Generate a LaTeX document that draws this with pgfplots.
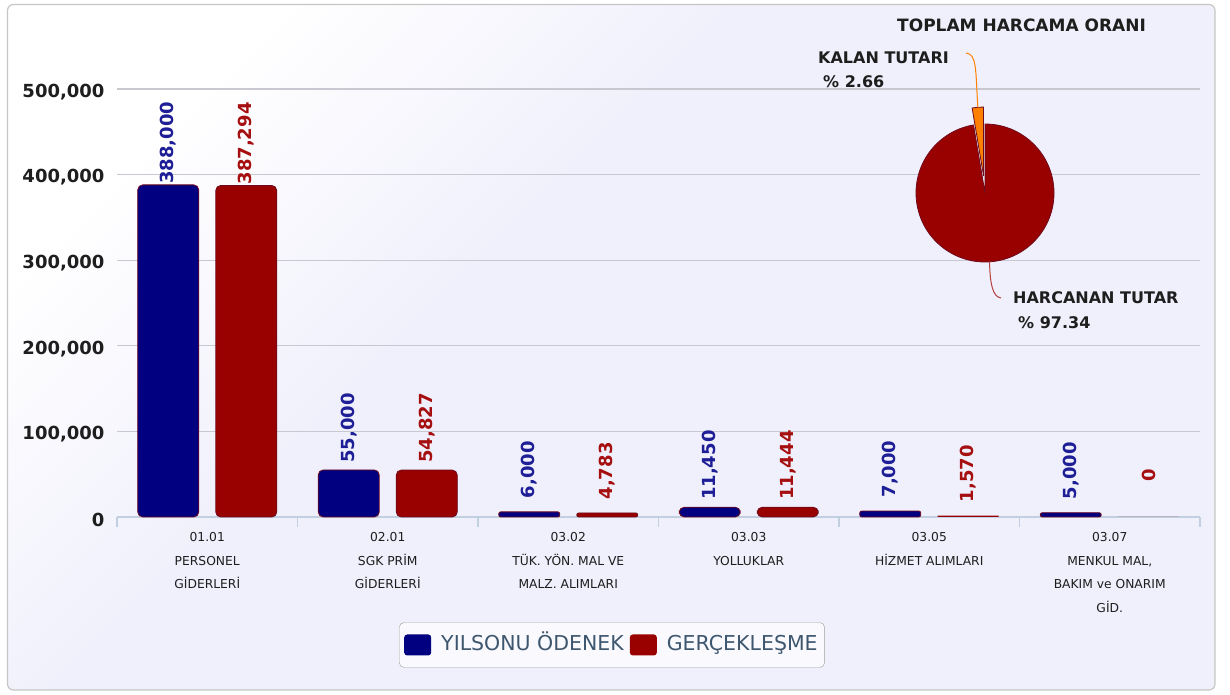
\documentclass[border=0pt]{standalone}
\usepackage{pgfplots}
\pgfplotsset{compat=1.18}
\usepackage{fontspec}
\setmainfont{DejaVu Sans}
\definecolor{bgc}{RGB}{240,240,252}
\definecolor{navyb}{RGB}{0,0,128}
\definecolor{redb}{RGB}{153,0,0}
\definecolor{bordc}{RGB}{110,10,30}
\definecolor{axc}{RGB}{192,208,224}
\definecolor{gridc}{RGB}{200,200,208}
\definecolor{legtxt}{RGB}{62,87,111}
\definecolor{orangep}{RGB}{255,128,0}
\definecolor{lblblue}{RGB}{30,30,150}
\definecolor{lblred}{RGB}{165,15,15}
\definecolor{txt}{RGB}{30,30,30}
\pgfdeclareverticalshading{bgshade}{100bp}{color(0bp)=(bgc); color(58bp)=(bgc); color(75bp)=(white); color(100bp)=(white)}
\begin{document}
\begin{tikzpicture}[x=1pt,y=1pt]
\fill[white] (0,0) rectangle (1230,695);
\shade[shading=bgshade, shading angle=45, rounded corners=6pt] (7.5,5) rectangle (1215,690.5);
\draw[gray!45, line width=1.2pt, rounded corners=6pt] (7.5,5) rectangle (1215,690.5);
\begin{axis}[
  at={(117pt,178pt)}, anchor=south west, scale only axis,
  width=1083pt, height=428pt,
  xmin=-0.5, xmax=5.5, ymin=0, ymax=500000,
  ybar, bar width=61pt,
  axis lines*=left,
  y axis line style={draw=none},
  x axis line style={axc, line width=1.2pt},
  ytick={0,100000,200000,300000,400000,500000},
  scaled y ticks=false,
  /pgf/number format/assume math mode=true,
  /pgf/number format/fixed,
  /pgf/number format/1000 sep={,},
  yticklabel style={font=\bfseries\fontsize{18}{18}\selectfont, text=txt, xshift=-9pt, yshift=-3pt},
  ymajorgrids, grid style={gridc, line width=1.2pt},
  xtick={0,1,2,3,4,5},
  xticklabels={{01.01\\PERSONEL\\GİDERLERİ},{02.01\\SGK PRİM\\GİDERLERİ},{03.02\\TÜK. YÖN. MAL VE\\MALZ. ALIMLARI},{03.03\\YOLLUKLAR},{03.05\\HİZMET ALIMLARI},{03.07\\MENKUL MAL,\\BAKIM ve ONARIM\\GİD.}},
  xticklabel style={align=center, font=\fontsize{12.3}{23.5}\selectfont, text=txt, anchor=north, yshift=-12pt},
  minor xtick={-0.5,0.5,1.5,2.5,3.5,4.5,5.5},
  major tick length=0pt, minor tick length=10pt, tick align=outside,
  minor tick style={axc, line width=1.2pt},
  clip=false,
  nodes near coords,
  every node near coord/.append style={font=\bfseries\fontsize{18}{18}\selectfont, yshift=42pt, rotate=90, anchor=center},
  legend columns=2,
  legend style={at={(0.457,-0.299)}, anchor=center, draw=gray!75, rounded corners=5pt, fill=white!60!bgc,
    font=\fontsize{20.5}{20.5}\selectfont, text=legtxt, inner xsep=5pt, inner ysep=11pt,
    nodes={text height=15pt, text depth=4pt},
    /tikz/every odd column/.append style={column sep=8pt},
    /tikz/every even column/.append style={column sep=4pt}},
  legend image code/.code={\path[#1, draw=none, rounded corners=3pt] (0pt,-10.5pt) rectangle (27pt,10.5pt);},
]
% YILSONU ÖDENEK (large bars, then small bars with tighter corners)
\addplot[fill=navyb, draw=bordc, line width=0.8pt, rounded corners=5pt, bar shift=-39pt, every node near coord/.append style={text=lblblue}]
  coordinates {(0,388000) (1,55000) (3,11450)};
% GERÇEKLEŞME
\addplot[fill=redb, draw=bordc, line width=0.8pt, rounded corners=5pt, bar shift=39pt, every node near coord/.append style={text=lblred}]
  coordinates {(0,387294) (1,54827) (3,11444)};
\addplot[fill=navyb, draw=bordc, line width=0.8pt, rounded corners=2pt, bar shift=-39pt, every node near coord/.append style={text=lblblue}, forget plot]
  coordinates {(2,6000) (4,7000) (5,5000)};
\addplot[fill=redb, draw=bordc, line width=0.8pt, rounded corners=2pt, bar shift=39pt, every node near coord/.append style={text=lblred}, forget plot]
  coordinates {(2,4783)};
\addplot[fill=redb, draw=none, bar shift=39pt, every node near coord/.append style={text=lblred}, forget plot]
  coordinates {(4,1570) (5,0)};
\legend{YILSONU ÖDENEK, GERÇEKLEŞME}
\end{axis}
% pie chart: TOPLAM HARCAMA ORANI
\def\pkalan{2.66}
\def\pharc{97.34}
\pgfmathsetmacro\angA{3.6*\pkalan}
\pgfmathsetmacro\angM{90+\angA/2}
\begin{scope}[shift={(985,502)}]
  \filldraw[fill=redb, draw=bordc, line width=0.8pt] (0,0) -- (90+\angA:69) arc[start angle=90+\angA, end angle=450, radius=69] -- cycle;
  \begin{scope}[shift={(\angM:17)}]
    \filldraw[fill=orangep, draw=bordc, line width=0.8pt] (0,0) -- (90:69) arc[start angle=90, end angle=90+\angA, radius=69] -- cycle;
  \end{scope}
\end{scope}
\draw[orangep, line width=1pt] (977.8,587.7) .. controls (975.5,625) and (977,641) .. (966,642);
\draw[lblred!80!white, line width=1pt] (989.5,433.5) .. controls (990,410) and (993,398) .. (1001,397);
\node[anchor=west, inner sep=0, font=\bfseries\fontsize{17}{17}\selectfont, text=txt] at (897,670) {TOPLAM HARCAMA ORANI};
\node[anchor=west, inner sep=0, font=\bfseries\fontsize{16}{16}\selectfont, text=txt] at (818,637) {KALAN TUTARI};
\node[anchor=west, inner sep=0, font=\bfseries\fontsize{16}{16}\selectfont, text=txt] at (823,613) {\% \pkalan};
\node[anchor=west, inner sep=0, font=\bfseries\fontsize{16}{16}\selectfont, text=txt] at (1013,397) {HARCANAN TUTAR};
\node[anchor=west, inner sep=0, font=\bfseries\fontsize{16}{16}\selectfont, text=txt] at (1018,372) {\% \pharc};
\pgfresetboundingbox
\path (0,0) rectangle (1230,695);
\end{tikzpicture}
\end{document}
